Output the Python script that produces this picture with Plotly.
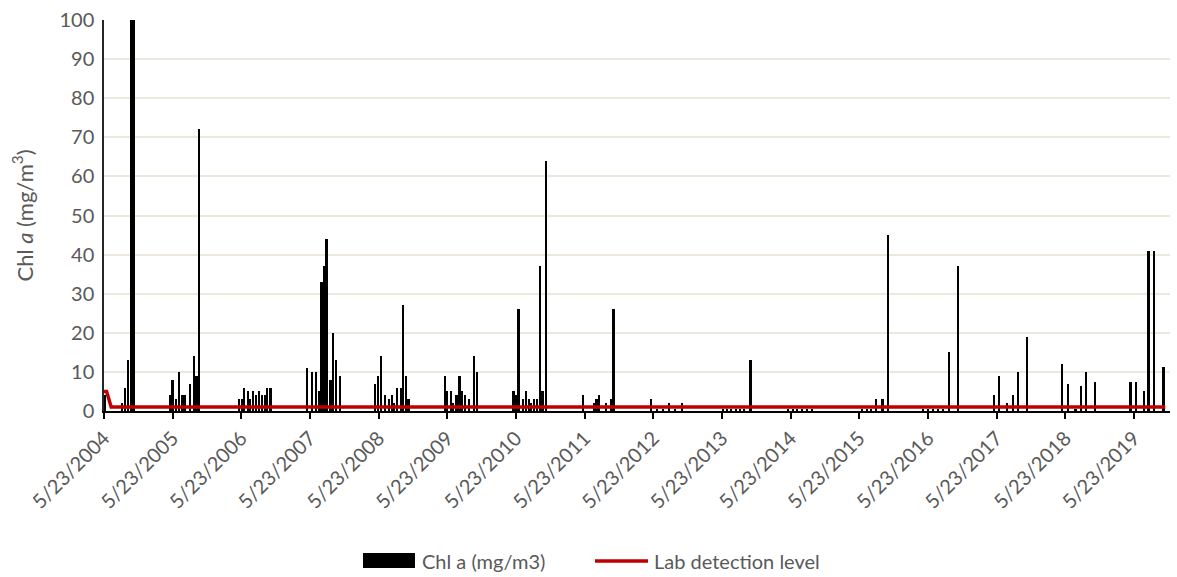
import plotly.graph_objects as go

# ---- data ----
chl_dates = [
    "2004-05-25", "2004-08-26", "2004-09-13", "2004-09-27", "2004-10-13", "2004-10-21", "2004-10-29",
    "2005-05-09", "2005-05-23", "2005-06-08", "2005-06-27", "2005-07-15", "2005-07-29", "2005-08-23",
    "2005-09-13", "2005-09-27", "2005-10-11",
    "2006-05-11", "2006-05-27", "2006-06-08", "2006-06-26", "2006-07-10", "2006-07-26", "2006-08-08",
    "2006-08-24", "2006-09-10", "2006-09-28", "2006-10-08", "2006-10-26",
    "2007-05-09", "2007-06-03", "2007-06-24", "2007-07-10", "2007-07-24", "2007-08-07", "2007-08-20",
    "2007-09-10", "2007-09-24", "2007-10-08", "2007-10-30",
    "2008-05-05", "2008-05-19", "2008-06-04", "2008-06-26", "2008-07-17", "2008-07-31", "2008-08-14",
    "2008-08-27", "2008-09-19", "2008-10-01", "2008-10-15", "2008-10-29",
    "2009-05-10", "2009-05-19", "2009-06-11", "2009-06-23", "2009-07-11", "2009-07-27", "2009-08-10",
    "2009-08-25", "2009-09-16", "2009-10-11", "2009-10-26",
    "2010-05-10", "2010-05-23", "2010-06-06", "2010-06-29", "2010-07-14", "2010-07-30", "2010-08-09",
    "2010-08-27", "2010-09-13", "2010-09-28", "2010-10-12", "2010-10-28",
    "2011-05-16", "2011-07-11", "2011-07-26", "2011-08-09", "2011-09-13", "2011-10-10", "2011-10-24",
    "2012-05-09", "2012-06-10", "2012-07-15", "2012-08-14", "2012-09-15", "2012-10-22",
    "2013-05-28", "2013-06-19", "2013-07-10", "2013-08-05", "2013-08-27", "2013-09-17", "2013-10-22",
    "2014-05-09", "2014-06-04", "2014-06-26", "2014-07-22", "2014-08-18", "2014-09-14",
    "2015-06-06", "2015-07-02", "2015-07-24", "2015-08-21", "2015-09-24", "2015-10-24",
    "2016-04-26", "2016-05-23", "2016-06-19", "2016-07-15", "2016-08-11", "2016-09-13", "2016-10-31",
    "2017-05-10", "2017-06-06", "2017-07-18", "2017-08-18", "2017-09-13", "2017-11-02",
    "2018-05-07", "2018-06-06", "2018-07-17", "2018-08-16", "2018-09-11", "2018-10-29",
    "2019-05-05", "2019-06-03", "2019-07-14", "2019-08-09", "2019-09-06", "2019-10-28",
]
chl_values = [
    4, 2, 6, 13, 150, 120, 110,
    4, 8, 3, 10, 4, 4, 7,
    14, 9, 72,
    3, 3, 6, 5, 3, 5, 4,
    5, 4, 4, 6, 6,
    11, 10, 10, 5, 33, 37, 44,
    8, 20, 13, 9,
    7, 9, 14, 4, 3, 4, 2,
    6, 6, 27, 9, 3,
    9, 5, 5, 2, 4, 9, 5,
    4, 3, 14, 10,
    5, 4, 26, 3, 5, 3, 2,
    3, 3, 37, 5, 64,
    4, 2, 3, 4, 2, 3, 26,
    3, 0.5, 0.5, 2, 0.5, 2,
    0.5, 0.5, 0.5, 0.5, 0.5, 0.5, 13,
    0.5, 0.5, 0.5, 0.5, 0.5, 0.5,
    0.5, 0.5, 0.5, 3, 3, 45,
    0.5, 0.5, 0.5, 0.5, 0.5, 15, 37,
    4, 9, 2, 4, 10, 19,
    12, 7, 0.5, 6.5, 10, 7.5,
    7.5, 7.5, 5, 41, 41, 11.3,
]
detect_dates = ["2004-05-23", "2004-06-06", "2004-06-30", "2019-11-06"]
detect_values = [5, 5, 1, 1]
tick_dates = [f"{y}-05-23" for y in range(2004, 2020)]
tick_labels = [f"5/23/{y}" for y in range(2004, 2020)]

FONT = "Lato"
GRAY = "#595959"
DAY_MS = 86400000

fig = go.Figure()
fig.add_trace(go.Bar(
    x=chl_dates, y=chl_values, name="Chl a (mg/m3)",
    marker=dict(color="black", line=dict(width=0)),
    width=[12 * DAY_MS] * len(chl_dates), showlegend=False,
))
fig.add_trace(go.Scatter(
    x=detect_dates, y=detect_values, name="Lab detection level", mode="lines",
    line=dict(color="#C00000", width=3.5), showlegend=False,
))

L, R, T, B = 104, 7, 20, 166
W, H = 1177, 577
pw, ph = W - L - R, H - T - B


def px(xp):
    return (xp - L) / pw


def py(yp):
    return (H - B - yp) / ph


shapes = [
    dict(type="rect", xref="paper", yref="paper", x0=px(363), x1=px(415), y0=py(568), y1=py(553),
         fillcolor="black", line=dict(width=0)),
    dict(type="line", xref="paper", yref="paper", x0=px(595), x1=px(648), y0=py(561), y1=py(561),
         line=dict(color="#C00000", width=3.5)),
]
annotations = [
    dict(xref="paper", yref="paper", x=px(420), y=py(561), text="Chl a (mg/m3)", showarrow=False,
         xanchor="left", yanchor="middle", font=dict(family=FONT, size=20, color=GRAY)),
    dict(xref="paper", yref="paper", x=px(652), y=py(561), text="Lab detection level", showarrow=False,
         xanchor="left", yanchor="middle", font=dict(family=FONT, size=20, color=GRAY)),
]

fig.update_layout(
    width=W, height=H, margin=dict(l=L, r=R, t=T, b=B),
    paper_bgcolor="white", plot_bgcolor="white",
    font=dict(family=FONT, size=20, color=GRAY),
    bargap=0, shapes=shapes, annotations=annotations,
    xaxis=dict(
        type="date", range=["2004-05-23", "2019-12-01"],
        tickvals=tick_dates, ticktext=tick_labels, tickangle=-45,
        showgrid=False, showline=True, linecolor="black", linewidth=1.5,
        ticks="outside", ticklen=6, tickcolor="black", tickwidth=1.5,
        tickfont=dict(family=FONT, size=20, color=GRAY),
    ),
    yaxis=dict(
        range=[0, 100], tick0=0, dtick=10, showgrid=True, gridcolor="#ECE8DE", gridwidth=1.5,
        showline=True, linecolor="#262626", linewidth=1.5, zeroline=False,
        ticks="", tickfont=dict(family=FONT, size=20, color=GRAY), ticklabelstandoff=4,
        title=dict(text="Chl <i>a</i> (mg/m<sup>3</sup>)", font=dict(family=FONT, size=22, color=GRAY),
                   standoff=20),
    ),
)

fig.write_html("out.html")
